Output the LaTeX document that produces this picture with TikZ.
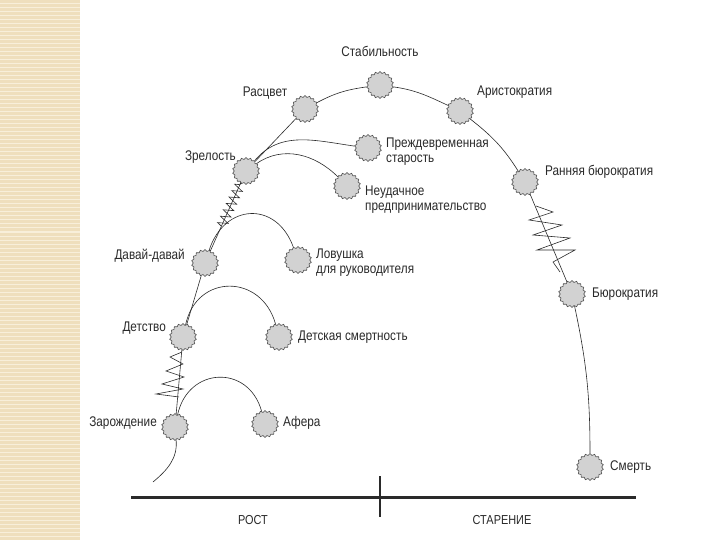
\documentclass[tikz,border=0pt]{standalone}
\usepackage{fontspec}
\setmainfont[FakeStretch=0.84]{Liberation Sans}
\usetikzlibrary{shapes.geometric,decorations.pathmorphing,calc}
\definecolor{beige}{HTML}{EFDFBD}
\definecolor{beigeL}{HTML}{F8EFDA}
\definecolor{ink}{HTML}{2A2A2A}
\definecolor{ballfill}{HTML}{D2D2D2}
\definecolor{ballline}{HTML}{505050}
\begin{document}
\begin{tikzpicture}[x=1pt,y=1pt,
  stage/.style={star, star points=18, star point ratio=1.15, minimum size=27pt, inner sep=0pt, fill=ballfill, draw=ballline, line width=0.6pt},
  lbl/.style={font=\fontsize{14}{15}\selectfont, text=ink, inner sep=0pt},
  axlbl/.style={font=\fontsize{13}{14}\selectfont, text=ink, inner sep=0pt},
  link/.style={draw=ink, line width=0.6pt},
  spring/.style={draw=ink, line width=0.6pt, line join=miter}]
\useasboundingbox (0,0) rectangle (720,-540);
\fill[white] (0,0) rectangle (720,-540);
\fill[beige] (0,0) rectangle (80,-540);
\foreach \y in {0,4,...,540} \draw[beigeL, line width=1pt] (0,-\y) -- (80,-\y);

% stages
\node[stage] (zar) at (175,-427) {};
\node[stage] (afe) at (265,-424) {};
\node[stage] (det) at (183,-337) {};
\node[stage] (dsm) at (279,-337) {};
\node[stage] (dav) at (205,-263) {};
\node[stage] (lov) at (298,-260) {};
\node[stage] (zre) at (246,-171) {};
\node[stage] (ned) at (347,-186) {};
\node[stage] (pre) at (368,-148) {};
\node[stage] (ras) at (305,-109) {};
\node[stage] (sta) at (380,-85) {};
\node[stage] (ari) at (460,-111) {};
\node[stage] (rbu) at (525,-182) {};
\node[stage] (bur) at (572,-294) {};
\node[stage] (sme) at (590,-467) {};
\coordinate (start) at (153,-482);

% labels
\node[lbl, anchor=east] (lzar) at (157,-423) {Зарождение};
\node[lbl, anchor=west] (lafe) at (283,-423) {Афера};
\node[lbl, anchor=east] (ldet) at (166,-328) {Детство};
\node[lbl, anchor=west] (ldsm) at (298,-337) {Детская смертность};
\node[lbl, anchor=east] (ldav) at (185,-256) {Давай-давай};
\node[lbl, anchor=west, align=left] (llov) at (316,-263) {Ловушка\\для руководителя};
\node[lbl, anchor=east] (lzre) at (236,-157) {Зрелость};
\node[lbl, anchor=west, align=left] (lned) at (365,-200) {Неудачное\\предпринимательство};
\node[lbl, anchor=west, align=left] (lpre) at (386,-152) {Преждевременная\\старость};
\node[lbl] (lras) at (265,-93) {Расцвет};
\node[lbl] (lsta) at (380,-51) {Стабильность};
\node[lbl, anchor=west] (lari) at (477,-92) {Аристократия};
\node[lbl, anchor=west] (lrbu) at (545,-172) {Ранняя бюрократия};
\node[lbl, anchor=west] (lbur) at (592,-294) {Бюрократия};
\node[lbl, anchor=west] (lsme) at (610,-467) {Смерть};

% main path
\draw[link] (zar) to[out=-85,in=40] (start);
\draw[link] (zar) -- (det);
\draw[link] (det) -- (dav);
\draw[link] (dav) -- (zre);
\draw[link] (zre) -- (ras);
\draw[link] (ras) to[out=28,in=188] (sta);
\draw[link] (sta) to[out=-8,in=155] (ari);
\draw[link] (ari) to[out=-38,in=122] (rbu);
\draw[link] (rbu) -- (bur);
\draw[link] (bur) to[out=-78,in=90] (sme);

% side branches
\draw[link] (zar) to[out=78,in=105,looseness=1.5] (afe);
\draw[link] (det) to[out=78,in=105,looseness=1.5] (dsm);
\draw[link] (dav) to[out=72,in=110,looseness=1.5] (lov);
\draw[link] (zre) to[out=50,in=172] (pre);
\draw[link] (zre) to[out=35,in=135] (ned);

% springs
\draw[spring] (182,-352) -- (170,-357) -- (183,-364) -- (166,-371) -- (184,-377) -- (162,-384) -- (183,-389) -- (156,-394) -- (179,-397);
\draw[spring, decorate, decoration={zigzag, amplitude=5pt, segment length=7pt}] ($(dav)!0.4!(zre)$) -- ($(dav)!0.88!(zre)$);
\draw[spring] (536,-206) -- (553,-212) -- (529,-220) -- (562,-225) -- (533,-235) -- (570,-238) -- (537,-250) -- (575,-250) -- (553,-262) -- (560,-272);

% axis
\draw[draw=ink, line width=3pt] (131,-497) -- (636,-497);
\draw[draw=ink, line width=1.2pt] (380,-476) -- (380,-517);
\node[axlbl] (grow) at (253,-520) {РОСТ};
\node[axlbl] (aging) at (502,-520) {СТАРЕНИЕ};
\end{tikzpicture}
\end{document}
